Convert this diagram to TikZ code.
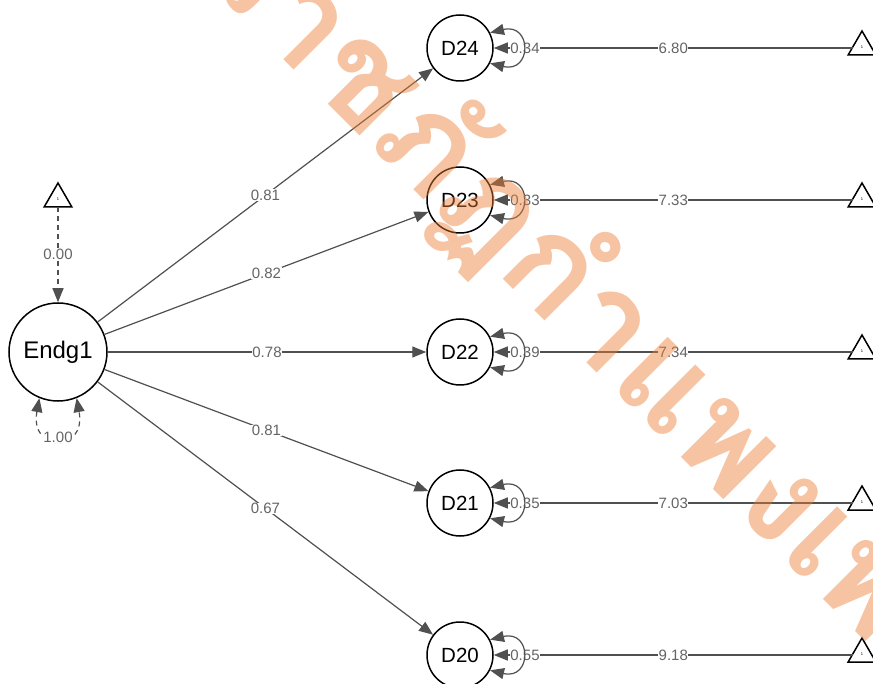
\documentclass[tikz,border=0pt]{standalone}
\usepackage{fontspec}
\setmainfont{Liberation Sans}
\newfontfamily\thaifont[Script=Thai]{Loma}
\usetikzlibrary{arrows.meta,shapes.geometric}
\definecolor{edgegray}{RGB}{80,80,80}
\definecolor{labgray}{RGB}{100,100,100}
\definecolor{wmorange}{RGB}{237,125,49}
\tikzset{mytip/.tip={Triangle[length=14pt,width=11pt,fill=edgegray]}}
\begin{document}
\begin{tikzpicture}[x=1pt,y=-1pt,
  latent/.style={circle,draw=black,line width=1.5pt,minimum size=66pt,inner sep=0pt,
    font=\fontsize{20.5}{23}\selectfont},
  biglatent/.style={latent,minimum size=98pt,font=\fontsize{24}{27}\selectfont},
  meantri/.style={regular polygon,regular polygon sides=3,draw=black,line width=1.5pt,
    minimum size=32pt,inner sep=0pt,outer sep=0pt,font=\fontsize{4}{5}\selectfont},
  edge/.style={draw=edgegray,line width=1.2pt},
  dashedge/.style={edge,dash pattern=on 5pt off 4pt},
  lab/.style={fill=white,inner sep=0.5pt,text=labgray,font=\fontsize{15}{17}\selectfont},
  wm/.style={text=wmorange,text opacity=0.45,inner sep=0pt,
    font=\thaifont\bfseries\fontsize{135}{135}\selectfont}
]
\useasboundingbox (0,0) rectangle (873,684);
\fill[white] (0,0) rectangle (873,684);

% latent and mean nodes
\node[biglatent] (E) at (58,352) {Endg1};
\node[meantri] (t0) at (58,199) {1};
\node[latent] (d24) at (460,48) {D24};
\node[latent] (d23) at (460,200) {D23};
\node[latent] (d22) at (460,352) {D22};
\node[latent] (d21) at (460,503) {D21};
\node[latent] (d20) at (460,655) {D20};
\node[meantri] (t24) at (862,47) {1};
\node[meantri] (t23) at (862,199) {1};
\node[meantri] (t22) at (862,351) {1};
\node[meantri] (t21) at (862,502) {1};
\node[meantri] (t20) at (862,654) {1};

% Endg1 mean and variance
\draw[dashedge,-mytip] (t0.south) -- node[lab] (l0) {0.00} (E);
\draw[dashedge,mytip-mytip]
  (E.-112) .. controls +(-10,55) and +(10,55) .. (E.-68);
\node[lab] (lv) at (58,437) {1.00};

% loadings
\draw[edge,-mytip] (E) -- node[lab] (a24) {0.81} (d24);
\draw[edge,-mytip] (E) -- node[lab] (a23) {0.82} (d23);
\draw[edge,-mytip] (E) -- node[lab] (a22) {0.78} (d22);
\draw[edge,-mytip] (E) -- node[lab] (a21) {0.81} (d21);
\draw[edge,-mytip] (E) -- node[lab] (a20) {0.67} (d20);

% intercepts
\draw[edge,-mytip] (t24.west|-d24) -- node[lab] (m24) {6.80} (d24);
\draw[edge,-mytip] (t23.west|-d23) -- node[lab] (m23) {7.33} (d23);
\draw[edge,-mytip] (t22.west|-d22) -- node[lab] (m22) {7.34} (d22);
\draw[edge,-mytip] (t21.west|-d21) -- node[lab] (m21) {7.03} (d21);
\draw[edge,-mytip] (t20.west|-d20) -- node[lab] (m20) {9.18} (d20);

% residual variance labels
\node[lab] (r24) at (525,48) {0.34};
\node[lab] (r23) at (525,200) {0.33};
\node[lab] (r22) at (525,352) {0.39};
\node[lab] (r21) at (525,503) {0.35};
\node[lab] (r20) at (525,655) {0.55};

% residual variance loops
\foreach \d in {d24,d23,d22,d21,d20}{
  \draw[edge,mytip-mytip]
    (\d.27) .. controls +(42,-10) and +(42,10) .. (\d.-27);
}

% watermark
\begin{scope}
\clip (0,0) rectangle (873,684);
\coordinate (wp) at (198,-26);
\node[wm,anchor=base west,rotate=-45] (wm1) at (wp) {ราชภัฏกำแพงเพชร};
\node[wm,anchor=base east,rotate=-45] (wm2) at (wp) {มหาวิทยาลัย};
\end{scope}
\end{tikzpicture}
\end{document}
